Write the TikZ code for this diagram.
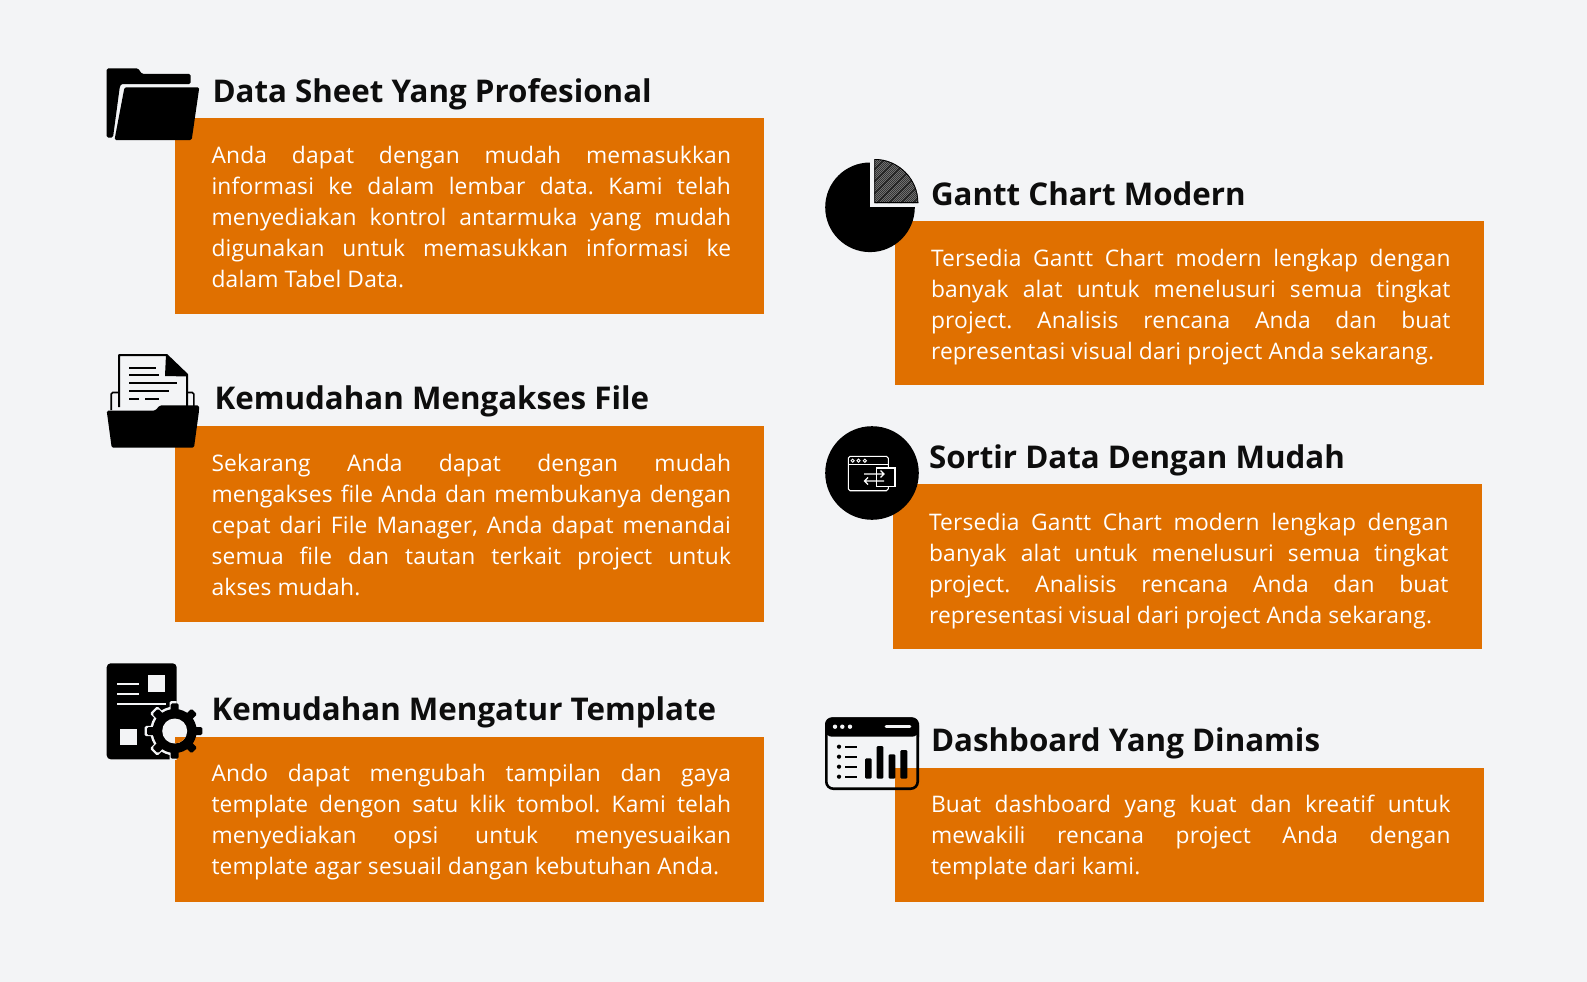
\documentclass[tikz,border=0pt]{standalone}
\usepackage{fontspec}
\setmainfont{Open Sans}
\newfontfamily\titlefont{Open Sans}
\newfontfamily\bodyfont[LetterSpace=0.8]{Open Sans}
\definecolor{pagebg}{HTML}{F3F4F6}
\definecolor{boxor}{HTML}{E07000}
\newlength{\bw}\setlength{\bw}{519.5pt}
\frenchspacing
\newcommand{\jl}[1]{\hbox to \bw{\strut\spaceskip=.26em plus 10em minus .1em #1}}
\newcommand{\nl}[1]{\hbox{\strut #1}}
\newcommand{\stack}[1]{\vbox{\offinterlineskip #1}}
\tikzset{
  card/.style={fill=boxor,draw=none},
  bodytxt/.style={anchor=north west,inner sep=0pt,outer sep=0pt,text=white,font=\bodyfont\frenchspacing\fontsize{22.8}{31.05}\selectfont},
  headtxt/.style={anchor=base west,inner sep=0pt,outer sep=0pt,text=black!95,font=\titlefont\bfseries\fontsize{31.3}{36}\selectfont},
  ink/.style={fill=black,draw=none},
}
\begin{document}
\begin{tikzpicture}[x=1pt,y=-1pt]
\path[use as bounding box,fill=pagebg] (0,0) rectangle (1587,982);
% cards
\node[card,minimum width=589pt,minimum height=196pt,anchor=north west,inner sep=0] (c1) at (175,118) {};
\node[card,minimum width=589pt,minimum height=196pt,anchor=north west,inner sep=0] (c2) at (175,426) {};
\node[card,minimum width=589pt,minimum height=165pt,anchor=north west,inner sep=0] (c3) at (175,737) {};
\node[card,minimum width=589pt,minimum height=164pt,anchor=north west,inner sep=0] (c4) at (895,221) {};
\node[card,minimum width=589pt,minimum height=165pt,anchor=north west,inner sep=0] (c5) at (893,484) {};
\node[card,minimum width=589pt,minimum height=134pt,anchor=north west,inner sep=0] (c6) at (895,768) {};
% titles
\node[headtxt] (h1) at (212.5,102) {Data Sheet Yang Profesional};
\node[headtxt] (h2) at (214.6,409) {Kemudahan Mengakses File};
\node[headtxt] (h3) at (211.5,720) {Kemudahan Mengatur Template};
\node[headtxt] (h4) at (931,205.5) {Gantt Chart Modern};
\node[headtxt] (h5) at (929,468.6) {Sortir Data Dengan Mudah};
\node[headtxt] (h6) at (931,751) {Dashboard Yang Dinamis};
% bodies (top = baseline - 21.7)
\node[bodytxt] (b1) at (211.5,141.6) {\stack{\jl{Anda dapat dengan mudah memasukkan}\jl{informasi ke dalam lembar data. Kami telah}\jl{menyediakan kontrol antarmuka yang mudah}\jl{digunakan untuk memasukkan informasi ke}\nl{dalam Tabel Data.}}};
\node[bodytxt] (b2) at (211.5,449.6) {\stack{\jl{Sekarang Anda dapat dengan mudah}\jl{mengakses file Anda dan membukanya dengan}\jl{cepat dari File Manager, Anda dapat menandai}\jl{semua file dan tautan terkait project untuk}\nl{akses mudah.}}};
\node[bodytxt] (b3) at (211.5,759.6) {\stack{\jl{Ando dapat mengubah tampilan dan gaya}\jl{template dengon satu klik tombol. Kami telah}\jl{menyediakan opsi untuk menyesuaikan}\nl{template agar sesuail dangan kebutuhan Anda.}}};
\node[bodytxt] (b4) at (931,244.8) {\stack{\jl{Tersedia Gantt Chart modern lengkap dengan}\jl{banyak alat untuk menelusuri semua tingkat}\jl{project. Analisis rencana Anda dan buat}\nl{representasi visual dari project Anda sekarang.}}};
\node[bodytxt] (b5) at (929,508.3) {\stack{\jl{Tersedia Gantt Chart modern lengkap dengan}\jl{banyak alat untuk menelusuri semua tingkat}\jl{project. Analisis rencana Anda dan buat}\nl{representasi visual dari project Anda sekarang.}}};
\node[bodytxt] (b6) at (931,790.6) {\stack{\jl{Buat dashboard yang kuat dan kreatif untuk}\jl{mewakili rencana project Anda dengan}\nl{template dari kami.}}};
% icon 1: folder
\path[ink,rounded corners=1.5pt] (106.7,68.3) -- (138,68.3) -- (142,74) -- (190.7,74) -- (190.7,84) -- (124,84) .. controls (121,84) and (120,86) .. (119.5,89) -- (113,137.5) -- (106.7,137.5) -- cycle;
\path[ink,rounded corners=1.5pt] (124.5,87.3) -- (199.3,87.3) -- (191.7,140) -- (114.5,140) -- cycle;
% icon 2: document in folder
\draw[black,line width=1.6pt,rounded corners=1.5pt] (111.2,410) -- (111.2,392.5) -- (118,392.5);
\draw[black,line width=1.6pt,rounded corners=1.5pt] (187,392.5) -- (193.8,392.5) -- (193.8,407);
\draw[black,line width=2pt,line join=round] (119,407) -- (119,355) -- (166.7,355) -- (187,374.5) -- (187,407);
\path[ink] (166,354.5) -- (187.8,375) -- (187.8,376.5) -- (165,376) -- cycle;
\foreach \ya/\xb in {368.3/155.7,375/159,383.3/177.3,391/169}{\draw[black,line width=2.2pt] (129.3,\ya) -- (\xb,\ya);}
\draw[black,line width=2.2pt] (129.3,398.7) -- (139,398.7) (145,398.7) -- (159,398.7);
\path[ink,rounded corners=1.5pt] (106.7,410.7) -- (155,410.7) -- (160,405.3) -- (199,405.3) -- (199,411) -- (194,447.7) -- (111.7,447.7) -- cycle;
% icon 3: document with gear
\path[ink,rounded corners=4pt] (106.7,663.3) rectangle (176.7,759.3);
\fill[pagebg] (148.3,675.3) rectangle (165,692);
\fill[pagebg] (120,729.3) rectangle (136.7,745.3);
\foreach \ya/\xb in {684.3/139,694/139,703.7/166}{\draw[pagebg,line width=1.8pt] (117.3,\ya) -- (\xb,\ya);}
\begin{scope}
\clip (106.7,663.3) rectangle (176.7,759.3);
\fill[pagebg] (174.7,731) circle (24.5);
\foreach \a in {0,45,...,315}{\fill[pagebg,rotate around={\a:(174.7,731)},rounded corners=1.5pt] (169.5,701) rectangle (179.9,715);}
\end{scope}
\fill[black] (174.7,731) circle (22);
\foreach \a in {0,45,...,315}{\fill[black,rotate around={\a:(174.7,731)},rounded corners=1.5pt] (170.7,703.3) rectangle (178.7,715);}
\fill[pagebg] (174.7,731) circle (12.5);
\begin{scope}
\clip (175,737) rectangle (210,765);
\fill[boxor] (174.7,731) circle (12.5);
\end{scope}
% icon 4: pie
\fill[black] (870,207.3) circle (44.8);
\fill[pagebg] (870,155) rectangle (922,207.3);
\begin{scope}
\clip (874.3,203) -- (874.3,159) .. controls (898.6,159) and (918.3,178.7) .. (918.3,203) -- cycle;
\fill[black!85] (870,155) rectangle (922,206);
\foreach \d in {0,2,...,104}{\draw[white,line width=.5pt,opacity=.42] (870+\d-52,206) -- (870+\d,154);}
\foreach \d in {8,20,...,100}{\draw[black,line width=1.1pt,opacity=.6] (870+\d-52,206) -- (870+\d,154);}
\draw[black,line width=1.6pt] (874.3,203) -- (874.3,159) .. controls (898.6,159) and (918.3,178.7) .. (918.3,203) -- cycle;
\end{scope}
% icon 5: circle with window
\fill[black] (872,473) circle (46.8);
\draw[white,line width=1.1pt,rounded corners=1.8pt] (888.3,468) -- (888.3,456.3) -- (848.3,456.3) -- (848.3,490.7) -- (888.3,490.7) -- (888.3,486.3);
\draw[white,line width=1.1pt] (848.3,464.7) -- (888.3,464.7);
\foreach \xd in {852.7,858.5,864.8}{\draw[white,line width=.9pt] (\xd,460.7) circle (1.6);}
\draw[white,line width=1.1pt] (876.7,468) rectangle (895,486.3);
\draw[white,line width=1.1pt] (864,474) -- (884,474) (880.5,470.5) -- (884,474) -- (880.5,477.5);
\draw[white,line width=1.1pt] (884,481) -- (864.5,481) (868,477.5) -- (864.5,481) -- (868,484.5);
% icon 6: dashboard
\draw[black,line width=2.6pt,rounded corners=7pt] (826.3,718.6) rectangle (917.7,788.7);
\path[ink,rounded corners=7pt] (825,717.3) -- (919,717.3) -- (919,730) -- (919,736.7) -- (825,736.7) -- (825,730) -- cycle;
\foreach \xd in {835,842.3,850}{\fill[pagebg] (\xd,726.7) circle (2.2);}
\draw[pagebg,line width=2.7pt,line cap=round] (886,726.7) -- (910,726.7);
\foreach \ya in {746.7,756.7,766.7,776.7}{\fill[black] (839,\ya) circle (2.1); \draw[black,line width=1.8pt] (845,\ya) -- (856.7,\ya);}
\foreach \xa/\xb/\yt in {865/871.7/758.3,876.7/883.3/746,888.7/895.3/754.3,900.3/907.3/750}{\path[ink,rounded corners=1.2pt] (\xa,\yt) rectangle (\xb,778.7);}
\end{tikzpicture}
\end{document}
